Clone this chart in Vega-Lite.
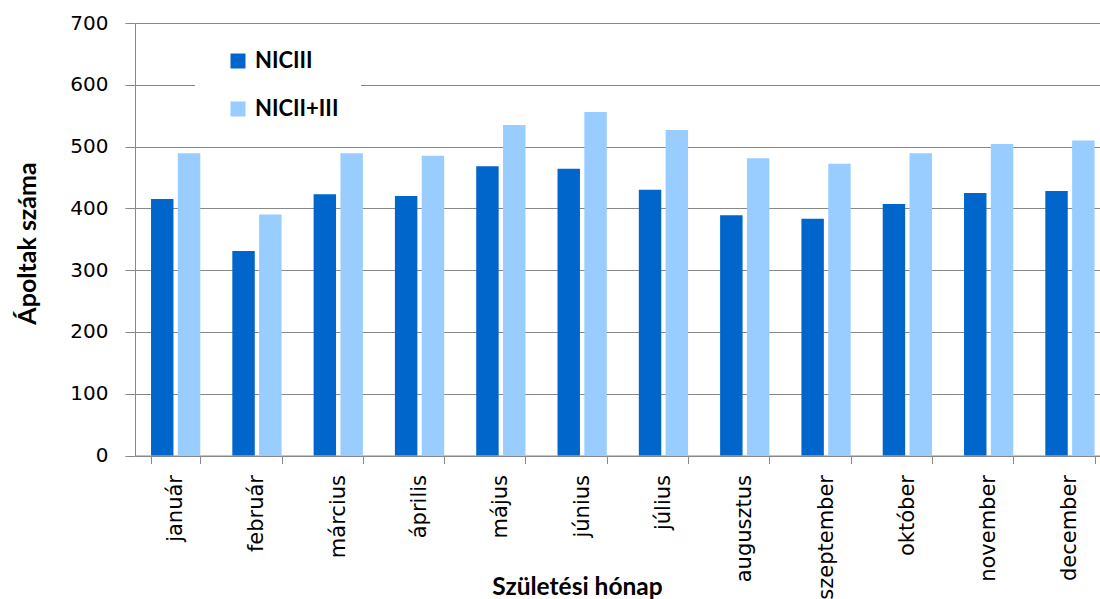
{
  "$schema": "https://vega.github.io/schema/vega-lite/v6.json",
  "width": 965,
  "height": 432.5,
  "autosize": {"type": "none"},
  "padding": {"left": 135, "top": 23, "right": 0, "bottom": 143},
  "background": "#ffffff",
  "data": {
    "values": [
      {"honap": "január", "sorozat": "NICIII", "ertek": 415},
      {"honap": "január", "sorozat": "NICII+III", "ertek": 489},
      {"honap": "február", "sorozat": "NICIII", "ertek": 331},
      {"honap": "február", "sorozat": "NICII+III", "ertek": 390},
      {"honap": "március", "sorozat": "NICIII", "ertek": 423},
      {"honap": "március", "sorozat": "NICII+III", "ertek": 489},
      {"honap": "április", "sorozat": "NICIII", "ertek": 420},
      {"honap": "április", "sorozat": "NICII+III", "ertek": 485},
      {"honap": "május", "sorozat": "NICIII", "ertek": 468},
      {"honap": "május", "sorozat": "NICII+III", "ertek": 535},
      {"honap": "június", "sorozat": "NICIII", "ertek": 464},
      {"honap": "június", "sorozat": "NICII+III", "ertek": 556},
      {"honap": "július", "sorozat": "NICIII", "ertek": 430},
      {"honap": "július", "sorozat": "NICII+III", "ertek": 527},
      {"honap": "augusztus", "sorozat": "NICIII", "ertek": 389},
      {"honap": "augusztus", "sorozat": "NICII+III", "ertek": 481},
      {"honap": "szeptember", "sorozat": "NICIII", "ertek": 383},
      {"honap": "szeptember", "sorozat": "NICII+III", "ertek": 472},
      {"honap": "október", "sorozat": "NICIII", "ertek": 407},
      {"honap": "október", "sorozat": "NICII+III", "ertek": 489},
      {"honap": "november", "sorozat": "NICIII", "ertek": 425},
      {"honap": "november", "sorozat": "NICII+III", "ertek": 504},
      {"honap": "december", "sorozat": "NICIII", "ertek": 428},
      {"honap": "december", "sorozat": "NICII+III", "ertek": 510}
    ]
  },
  "mark": {"type": "bar"},
  "encoding": {
    "x": {
      "field": "honap",
      "type": "nominal",
      "sort": ["január", "február", "március", "április", "május", "június", "július", "augusztus", "szeptember", "október", "november", "december"],
      "scale": {"range": [0, 975.6], "paddingInner": 0.394, "paddingOuter": 0.197},
      "axis": {
        "title": "Születési hónap",
        "titleFont": "Lato",
        "titleFontSize": 24.5,
        "titleFontWeight": "bold",
        "titleColor": "#000000",
        "titleX": 442,
        "titleY": 132,
        "titleAlign": "center",
        "titleBaseline": "middle",
        "labelAngle": -90,
        "labelAlign": "right",
        "labelBaseline": "middle",
        "labelFont": "DejaVu Sans",
        "labelFontSize": 21,
        "labelColor": "#000000",
        "labelPadding": 11,
        "tickBand": "extent",
        "tickSize": 8,
        "tickColor": "#888888",
        "domainColor": "#888888",
        "labelOverlap": false
      }
    },
    "xOffset": {
      "field": "sorozat",
      "type": "nominal",
      "scale": {"domain": ["NICIII", "NICII+III"], "paddingInner": 0.163, "paddingOuter": 0}
    },
    "y": {
      "field": "ertek",
      "type": "quantitative",
      "scale": {"domain": [0, 700], "nice": false},
      "axis": {
        "title": "Ápoltak száma",
        "titleFont": "Lato",
        "titleFontSize": 25,
        "titleFontWeight": "bold",
        "titleColor": "#000000",
        "titleX": -108,
        "titleY": 220,
        "titleAlign": "center",
        "titleBaseline": "middle",
        "values": [0, 100, 200, 300, 400, 500, 600, 700],
        "labelFont": "DejaVu Sans",
        "labelFontSize": 20,
        "labelColor": "#000000",
        "labelPadding": 17,
        "tickSize": 10,
        "tickColor": "#888888",
        "domainColor": "#888888",
        "grid": true,
        "gridColor": "#888888",
        "gridWidth": 1
      }
    },
    "color": {
      "field": "sorozat",
      "type": "nominal",
      "scale": {"domain": ["NICIII", "NICII+III"], "range": ["#0066CC", "#99CCFF"]},
      "legend": {
        "title": null,
        "orient": "none",
        "legendX": 60,
        "legendY": 5,
        "padding": 22,
        "symbolOffset": 10,
        "fillColor": "#ffffff",
        "symbolType": "square",
        "symbolSize": 225,
        "symbolStrokeWidth": 0,
        "labelFont": "Lato",
        "labelFontSize": 22,
        "labelFontWeight": "bold",
        "labelColor": "#000000",
        "labelOffset": 6,
        "rowPadding": 26
      }
    }
  },
  "config": {
    "view": {"stroke": null},
    "axis": {"domainWidth": 1, "tickWidth": 1}
  }
}
